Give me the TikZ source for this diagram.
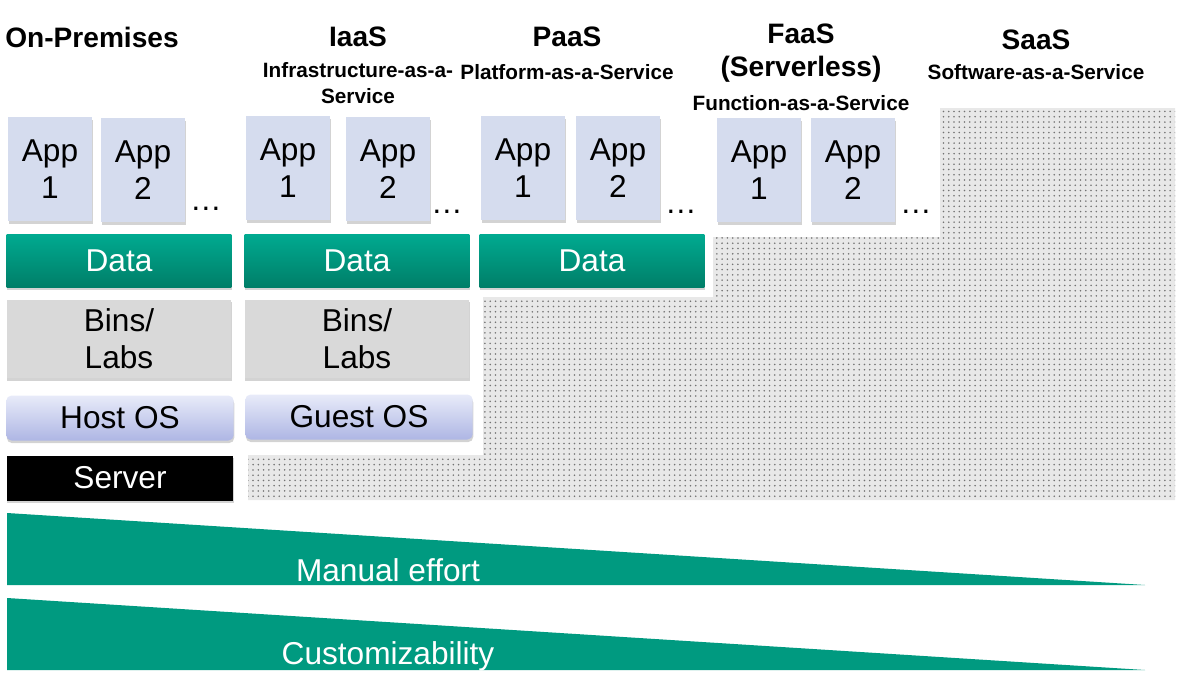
\documentclass[tikz,border=0pt]{standalone}
\usepackage{fontspec}
\setmainfont{Liberation Sans}
\usetikzlibrary{patterns,shadows}
\definecolor{appblue}{HTML}{D5DCEE}
\definecolor{datatop}{HTML}{00AA90}
\definecolor{databot}{HTML}{007E68}
\definecolor{binsgray}{HTML}{D9D9D9}
\definecolor{ostop}{HTML}{E8EBF9}
\definecolor{osbot}{HTML}{AEB6E4}
\definecolor{effort}{HTML}{009A80}
\tikzset{
  box/.style={inner sep=0pt, align=center, font=\fontsize{18}{21}\selectfont,
    drop shadow={shadow xshift=0.3pt, shadow yshift=-1.5pt, opacity=0.35}},
  app/.style={box, fill=appblue, minimum width=1.68cm, minimum height=2.08cm},
  data/.style={box, top color=datatop, bottom color=databot, text=white, minimum width=4.5cm, minimum height=1.06cm},
  bins/.style={box, fill=binsgray, minimum width=4.5cm, minimum height=1.58cm},
  os/.style={box, rounded corners=3pt, top color=ostop, bottom color=osbot, minimum width=4.55cm, minimum height=0.9cm},
  head/.style={font=\bfseries\fontsize{16}{19}\selectfont},
  sub/.style={font=\bfseries\fontsize{11.8}{14.5}\selectfont},
  more/.style={font=\fontsize{18}{21}\selectfont}
}
\begin{document}
\begin{tikzpicture}[x=0.02cm, y=-0.02cm]
\useasboundingbox (0,0) rectangle (1202,686);

% dotted area
\fill[gray!18] (248,455) -- (483,455) -- (483,297) -- (713,297) -- (713,237) -- (940,237) -- (940,108) -- (1175,108) -- (1175,500) -- (248,500) -- cycle;
\fill[pattern=dots, pattern color=gray!90!black] (248,455) -- (483,455) -- (483,297) -- (713,297) -- (713,237) -- (940,237) -- (940,108) -- (1175,108) -- (1175,500) -- (248,500) -- cycle;

% headings
\node[head] (hon) at (92,37) {On-Premises};
\node[head] (hiaas) at (358,37) {IaaS};
\node[sub, align=center] (siaas) at (358,83) {Infrastructure-as-a-\\Service};
\node[head] (hpaas) at (567,37) {PaaS};
\node[sub] (spaas) at (567,72) {Platform-as-a-Service};
\node[head, align=center] (hfaas) at (801,53) {FaaS\\(Serverless)};
\node[sub] (sfaas) at (801,103) {Function-as-a-Service};
\node[head] (hsaas) at (1036,40) {SaaS};
\node[sub] (ssaas) at (1036,72) {Software-as-a-Service};

% on-premises
\node[app] (onapp1) at (50,169) {App\\1};
\node[app] (onapp2) at (143,170) {App\\2};
\node[more] (ondots) at (206,209) {\dots};
\node[data] (ondata) at (119,261) {Data};
\node[bins] (onbins) at (119,339) {Bins/\\Labs};
\node[os] (onos) at (120,418) {Host OS};
\node[box, fill=black, text=white, minimum width=4.54cm, minimum height=0.9cm] (onserver) at (120,478) {Server};

% iaas
\node[app] (iaapp1) at (288,168) {App\\1};
\node[app] (iaapp2) at (388,169) {App\\2};
\node[more] (iadots) at (447,212) {\dots};
\node[data] (iadata) at (357,261) {Data};
\node[bins] (iabins) at (357,339) {Bins/\\Labs};
\node[os] (iaos) at (359,417) {Guest OS};

% paas
\node[app] (paapp1) at (523,168) {App\\1};
\node[app] (paapp2) at (618,168) {App\\2};
\node[more] (padots) at (681,212) {\dots};
\node[data] (padata) at (592,261) {Data};

% faas
\node[app] (faapp1) at (759,170) {App\\1};
\node[app] (faapp2) at (853,170) {App\\2};
\node[more] (fadots) at (916,212) {\dots};

% wedges
\fill[effort] (7,513) -- (7,585) -- (1145,585) -- cycle;
\node[text=white, font=\fontsize{18}{21}\selectfont] (effortlabel) at (388,570) {Manual effort};
\fill[effort] (7,598) -- (7,670) -- (1145,670) -- cycle;
\node[text=white, font=\fontsize{18}{21}\selectfont] (customlabel) at (388,656) {Customizability};
\end{tikzpicture}
\end{document}
